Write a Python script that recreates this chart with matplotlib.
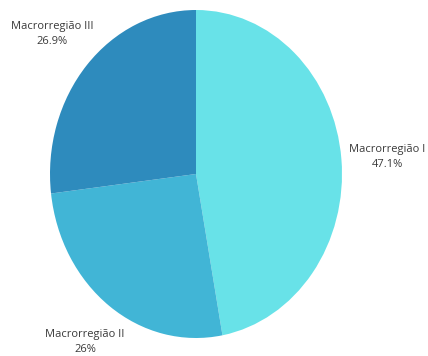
import matplotlib
matplotlib.use('Agg')
import matplotlib.pyplot as plt

# Share per macro-region
regions = ['Macrorregião I', 'Macrorregião II', 'Macrorregião III']
shares = [47.1, 26.0, 26.9]
share_labels = ['47.1%', '26%', '26.9%']
colors = ['#68e2e8', '#41b5d6', '#2e8bbd']

plt.rcParams['font.family'] = ['Open Sans', 'DejaVu Sans']

fig = plt.figure(figsize=(4.28, 3.56), dpi=100)
ax = fig.add_axes([0, 0, 1, 1])

ax.pie(shares, colors=colors, startangle=90, counterclock=False,
       wedgeprops=dict(linewidth=0))

# Stretch the pie vertically like the original widget
ax.set_aspect('auto')
ax.set_xlim(-196 / 146, (428 - 196) / 146)
ax.set_ylim(-(356 - 174) / 164, 174 / 164)
ax.axis('off')

# Label positions (figure pixels, origin top-left)
label_pos = [(387, 157), (85, 342), (52, 34)]
for name, txt, (px, py) in zip(regions, share_labels, label_pos):
    fig.text(px / 428, 1 - py / 356, f'{name}\n{txt}', ha='center', va='center',
             fontsize=8.0, color='#3a3a3a', linespacing=1.55)

fig.savefig('out.png', dpi=100)
